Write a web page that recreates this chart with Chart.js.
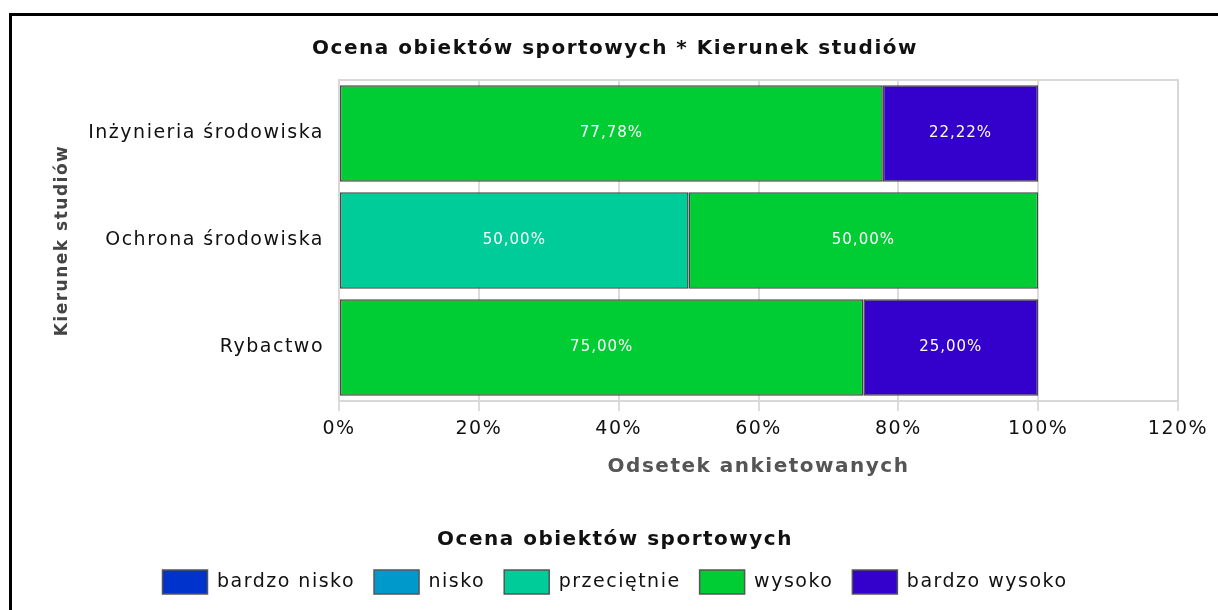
<!DOCTYPE html>
<html>
<head>
<meta charset="utf-8">
<script src="https://cdn.jsdelivr.net/npm/chart.js@4"></script>
<style>
  body { margin: 0; background: #fff; }
  #frame { position: absolute; left: 9px; top: 13px; width: 1240px; height: 640px; border: 3px solid #000; box-sizing: border-box; }
  #wrap { position: absolute; left: 0; top: 0; width: 1218px; height: 610px; }
</style>
</head>
<body>
<div id="frame"></div>
<div id="wrap"><canvas id="myChart" width="1218" height="610"></canvas></div>
<script>
const categories = ['Inżynieria środowiska', 'Ochrona środowiska', 'Rybactwo'];
const seriesNames = ['bardzo nisko', 'nisko', 'przeciętnie', 'wysoko', 'bardzo wysoko'];
const bardzoNisko = [0, 0, 0];
const nisko = [0, 0, 0];
const przecietnie = [0, 50, 0];
const wysoko = [77.78, 50, 75];
const bardzoWysoko = [22.22, 0, 25];
const xTicks = [0, 20, 40, 60, 80, 100, 120];

const colors = ['#0033cc', '#0099cc', '#00cc99', '#00cc33', '#3300cc'];
const values = [bardzoNisko, nisko, przecietnie, wysoko, bardzoWysoko];

const font = 'DejaVu Sans';

// the original text is spaced out, so widen every label a little
const spacing = {
  id: 'spacing',
  beforeLayout(chart) { chart.ctx.letterSpacing = '1.5px'; },
  beforeDraw(chart) { chart.ctx.letterSpacing = '1.5px'; }
};

const segmentLabels = {
  id: 'segmentLabels',
  afterDatasetsDraw(chart) {
    const ctx = chart.ctx;
    ctx.save();
    ctx.letterSpacing = '1px';
    ctx.fillStyle = '#fff';
    ctx.font = '15px "' + font + '"';
    ctx.textAlign = 'center';
    ctx.textBaseline = 'middle';
    chart.data.datasets.forEach((ds, i) => {
      chart.getDatasetMeta(i).data.forEach((bar, j) => {
        const v = ds.data[j];
        if (!v) return;
        const cx = (bar.x + bar.base) / 2;
        ctx.fillText(v.toFixed(2).replace('.', ',') + '%', cx, bar.y);
      });
    });
    ctx.restore();
  }
};

const plotFrame = {
  id: 'plotFrame',
  beforeDatasetsDraw(chart) {
    const a = chart.chartArea;
    const ctx = chart.ctx;
    ctx.save();
    ctx.strokeStyle = '#d8d8d8';
    ctx.lineWidth = 2;
    ctx.strokeRect(a.left, a.top, a.right - a.left, a.bottom - a.top);
    ctx.restore();
  }
};

const ctx = document.getElementById('myChart').getContext('2d');
new Chart(ctx, {
  type: 'bar',
  data: {
    labels: categories,
    datasets: seriesNames.map((name, i) => ({
      label: name,
      data: values[i],
      backgroundColor: colors[i],
      borderColor: '#444',
      borderWidth: 1.5,
      borderSkipped: false,
      barPercentage: 0.9,
      categoryPercentage: 1
    }))
  },
  plugins: [spacing, plotFrame, segmentLabels],
  options: {
    indexAxis: 'y',
    responsive: false,
    animation: false,
    layout: { padding: { top: 24, right: 40, left: 52, bottom: 6 } },
    plugins: {
      tooltip: { enabled: false },
      title: {
        display: true,
        text: 'Ocena obiektów sportowych * Kierunek studiów',
        color: '#111',
        font: { family: font, size: 20, weight: 'bold' },
        padding: { top: 13, bottom: 19 }
      },
      legend: {
        position: 'bottom',
        title: {
          display: true,
          text: 'Ocena obiektów sportowych',
          color: '#111',
          font: { family: font, size: 20, weight: 'bold' },
          padding: { top: 22, bottom: -3 }
        },
        labels: {
          boxWidth: 45,
          boxHeight: 24,
          padding: 19,
          color: '#111',
          font: { family: font, size: 19 },
          generateLabels(chart) {
            return chart.data.datasets.map((ds, i) => ({
              text: ds.label,
              fillStyle: ds.backgroundColor,
              strokeStyle: '#555',
              lineWidth: 1.5,
              datasetIndex: i
            }));
          }
        }
      }
    },
    scales: {
      x: {
        stacked: true,
        min: 0,
        max: 120,
        afterBuildTicks(scale) { scale.ticks = xTicks.map(v => ({ value: v })); },
        ticks: {
          color: '#111',
          font: { family: font, size: 19 },
          padding: 7,
          callback: v => v + '%'
        },
        grid: { color: '#dcdcdc', lineWidth: 2, tickLength: 10 },
        border: { color: '#dcdcdc', width: 2 },
        title: {
          display: true,
          text: 'Odsetek ankietowanych',
          color: '#555',
          font: { family: font, size: 20, weight: 'bold' },
          padding: { top: 8, bottom: 29 }
        },
        afterFit(scale) { scale.height = 107; }
      },
      y: {
        stacked: true,
        grid: { display: false, tickLength: 0 },
        border: { display: false },
        ticks: {
          color: '#111',
          font: { family: font, size: 19 },
          padding: 15
        },
        title: {
          display: true,
          text: 'Kierunek studiów',
          color: '#444',
          font: { family: font, size: 17, weight: 'bold' },
          padding: 0
        },
        afterFit(scale) { scale.width = 339 - 52; }
      }
    }
  }
});
</script>
</body>
</html>
